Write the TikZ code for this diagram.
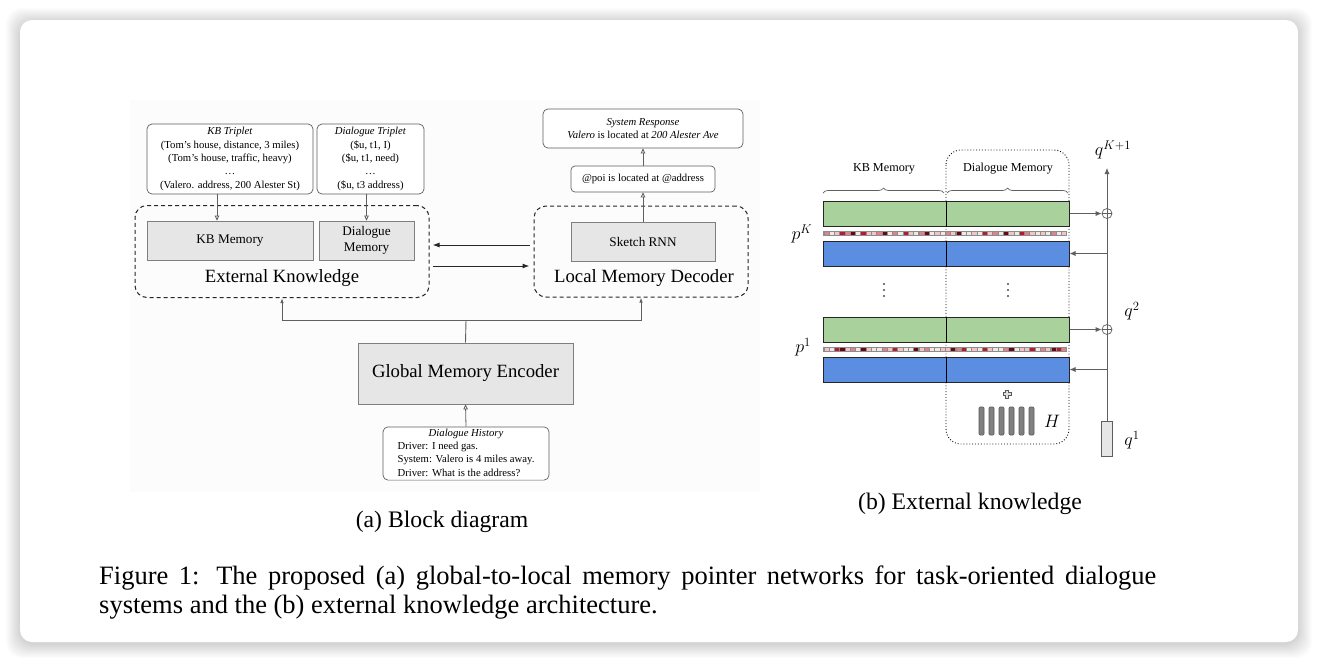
\RequirePackage{fix-cm}
\documentclass[tikz,border=0pt]{standalone}
\usepackage{fontspec}
\setmainfont{Liberation Serif}
\usepackage{amsmath}
\usetikzlibrary{positioning}
\usetikzlibrary{arrows.meta}
\usetikzlibrary{decorations.pathreplacing}

\definecolor{memgray}{RGB}{230,230,230}
\definecolor{linegray}{RGB}{95,95,95}
\definecolor{kbgreen}{RGB}{169,209,155}
\definecolor{kbblue}{RGB}{91,141,224}
\definecolor{panelbg}{RGB}{252,252,252}
\definecolor{cella}{RGB}{238,232,232}
\definecolor{cellb}{RGB}{242,196,200}
\definecolor{cellc}{RGB}{222,130,142}
\definecolor{celld}{RGB}{188,24,44}
\definecolor{celle}{RGB}{105,5,20}

\newcommand{\tripfont}{\fontsize{10.7}{13.3}\selectfont}
\newcommand{\memfont}{\fontsize{13.2}{15.5}\selectfont}
\newcommand{\modfont}{\fontsize{18.7}{22}\selectfont}
\newcommand{\kbfont}{\fontsize{12.2}{14}\selectfont}
\newcommand{\captfont}{\fontsize{23.7}{29}\selectfont}
\newcommand{\figfont}{\fontsize{26.5}{29}\selectfont}
\newcommand{\qpfont}{\fontsize{18}{20}\selectfont}
\newcommand{\stripeK}{c,a,b,d,c,e,a,d,b,b,c,e,a,c,a,d,b,a,c,e,a,b,a,c,b,e,a,a,b,a,d,b,c,a,e,b,a,d,c,b,a,b,a,c,a,b}
\newcommand{\stripeOne}{b,a,d,e,b,c,a,e,b,a,a,c,b,d,b,a,a,e,b,c,a,a,b,b,e,c,d,a,b,a,d,b,a,a,c,e,a,b,b,d,a,c,b,e,d,c}

\tikzset{
  srcbox/.style={draw=linegray, rounded corners=5pt, fill=white, align=center, inner sep=0pt, font=\tripfont, line width=0.7pt},
  membox/.style={draw=linegray!80, fill=memgray, inner sep=0pt, font=\memfont, align=center, line width=0.7pt},
  modbox/.style={draw=black!85, dash pattern=on 4pt off 3pt, rounded corners=12pt, line width=1pt, inner sep=0pt},
  feed/.style={draw=linegray, line width=0.8pt, -{Triangle[open,length=5pt,width=4.5pt]}},
  link/.style={draw=black!85, line width=1pt, -{Latex[length=7pt,width=5pt]}},
  splitline/.style={draw=linegray, line width=0.9pt},
  greenbar/.style={draw=black!85, fill=kbgreen, line width=1pt, minimum width=246pt, minimum height=25pt, inner sep=0pt},
  bluebar/.style={draw=black!85, fill=kbblue, line width=1pt, minimum width=246pt, minimum height=25pt, inner sep=0pt},
  qarrow/.style={draw=linegray, line width=0.8pt, -{Latex[length=6pt,width=5pt]}},
  oplus/.style={circle, draw=linegray, fill=white, minimum size=10pt, inner sep=0pt, line width=0.7pt,
    path picture={\draw[linegray, line width=0.7pt] (path picture bounding box.north) -- (path picture bounding box.south)
      (path picture bounding box.west) -- (path picture bounding box.east);}},
  hbar/.style={draw=black!65, fill=black!50, rounded corners=1pt, line width=0.6pt},
  membrace/.style={decorate, decoration={brace, amplitude=5pt}, draw=linegray, line width=0.7pt}
}

\begin{document}
\begin{tikzpicture}[x=1pt, y=-1pt]
 \useasboundingbox (0,0) rectangle (1318,662);
 \fill[white] (0,0) rectangle (1318,662);
 % card with soft shadow
 \foreach \s in {1,...,14}
   \fill[black, opacity=0.011, rounded corners=16pt] (20-\s,22-\s) rectangle (1298+\s,644+\s);
 \fill[white, rounded corners=12pt] (20,20) rectangle (1298,642);
 \fill[panelbg] (130,100) rectangle (760,492);

 % (a) block diagram
 \node[srcbox, minimum width=166pt, minimum height=70pt] (kbtrip) at (230,159)
   {\textit{KB Triplet}\\(Tom's house, distance, 3 miles)\\(Tom's house, traffic, heavy)\\\dots\\(Valero. address, 200 Alester St)};
 \node[srcbox, minimum width=107pt, minimum height=70pt] (dlgtrip) at (370.5,159)
   {\textit{Dialogue Triplet}\\(\$u, t1, I)\\(\$u, t1, need)\\\dots\\(\$u, t3 address)};
 \node[modbox, minimum width=294pt, minimum height=92pt] (ext) at (282,251.5) {};
 \node[membox, minimum width=166pt, minimum height=39pt] (kbmem) at (230,240.5) {KB Memory};
 \node[membox, minimum width=95pt, minimum height=39pt] (dlgmem) at (366.5,240.5) {Dialogue\\Memory};
 \node[font=\modfont, anchor=base] (extname) at (282,282) {External Knowledge};

 \node[modbox, minimum width=214pt, minimum height=91pt] (lmd) at (641,251.5) {};
 \node[membox, minimum width=144pt, minimum height=39pt] (sketch) at (643,241.5) {Sketch RNN};
 \node[font=\modfont, anchor=base] (lmdname) at (644,282) {Local Memory Decoder};
 \node[srcbox, minimum width=144pt, minimum height=26pt, rounded corners=4pt] (poi) at (643,179) {@poi is located at @address};
 \node[srcbox, minimum width=200pt, minimum height=39pt] (resp) at (643,128.5)
   {\textit{System Response}\\\textit{Valero} is located at \textit{200 Alester Ave}};

 \node[membox, font=\modfont, minimum width=215pt, minimum height=61pt] (gme) at (465.5,373.5) {Global Memory Encoder};
 \node[srcbox, minimum width=166pt, minimum height=53pt] (hist) at (466,453.5)
   {\begin{tabular}{@{}l@{}}\multicolumn{1}{@{}c@{}}{\textit{Dialogue History}}\\Driver: I need gas.\\System: Valero is 4 miles away.\\Driver: What is the address?\end{tabular}};
 \coordinate (split) at (466,320);

 \draw[feed] ([xshift=-13pt]kbtrip.south) -- ([xshift=-13pt]kbmem.north);
 \draw[feed] (dlgtrip.south -| dlgmem.north) -- (dlgmem.north);
 \draw[feed] (sketch.north) -- (poi.south);
 \draw[feed] (poi.north) -- (resp.south);
 \draw[feed] (hist.north) -- (gme.south);
 \draw[link, shorten <=4pt, shorten >=3pt] ([yshift=6.5pt]lmd.west) -- ([yshift=6.5pt]ext.east);
 \draw[link, shorten <=3pt, shorten >=4pt] ([yshift=-14.5pt]ext.east) -- ([yshift=-14.5pt]lmd.west);
 \draw[splitline] (gme.north) -- (split);
 \draw[splitline, -{Latex[length=5pt,width=3.5pt]}] (split) -| (ext.south);
 \draw[splitline, -{Latex[length=5pt,width=3.5pt]}] (split) -| (lmd.south);

 \node[font=\captfont, anchor=base] (capa) at (442,527) {(a) Block diagram};

 % (b) external knowledge
 \draw[dotted, line width=0.9pt, rounded corners=15pt] (946,150) rectangle (1069,444);
 \node[font=\kbfont, anchor=base] (kbname) at (884,171) {KB Memory};
 \node[font=\kbfont, anchor=base] (dlgname) at (1008,171) {Dialogue Memory};
 \draw[membrace] (823,193) -- (944,193);
 \draw[membrace] (947,193) -- (1068,193);

 \node[greenbar] (gK) at (946,213.5) {};
 \node[bluebar] (bK) at (946,253.5) {};
 \node[greenbar] (g1) at (946,329.5) {};
 \node[bluebar] (b1) at (946,369.5) {};
 \foreach \bar in {gK,bK,g1,b1}
   \draw[black, line width=1pt] (\bar.north) -- (\bar.south);

 \fill[black!45] (823,231) rectangle (1067,236);
 \foreach \c [count=\i from 0] in \stripeK
   \fill[fill=cell\c] (824.5+\i*5.28,231.9) rectangle ++(4.2,3.3);
 \fill[black!45] (823,347) rectangle (1067,352);
 \foreach \c [count=\i from 0] in \stripeOne
   \fill[fill=cell\c] (824.5+\i*5.28,347.9) rectangle ++(4.2,3.3);

 \node[font=\qpfont] (pK) at (802,234) {$p^K$};
 \node[font=\qpfont] (p1) at (803,347) {$p^1$};
 \foreach \xd in {884,1008}
   \foreach \yd in {284,290,296}
     \fill[black!70] (\xd,\yd) circle (1.1pt);

 \draw[black!65, fill=black!12, line width=0.8pt] (1005.6,390) -- ++(2.8,0) -- ++(0,2.6) -- ++(2.6,0) -- ++(0,2.8) -- ++(-2.6,0)
   -- ++(0,2.6) -- ++(-2.8,0) -- ++(0,-2.6) -- ++(-2.6,0) -- ++(0,-2.8) -- ++(2.6,0) -- cycle;
 \foreach \i in {0,...,5}
   \draw[hbar] (979+\i*10,407) rectangle ++(5,28);
 \node[font=\qpfont] (hname) at (1052,421) {$H$};

 \node[draw=linegray, fill=memgray, line width=0.7pt, minimum width=11pt, minimum height=35pt, inner sep=0pt] (q1) at (1107,438.5) {};
 \coordinate (qtop) at (1107,168);
 \draw[qarrow] (q1.north) -- (qtop);
 \node[oplus] (addK) at (1107,213.5) {};
 \node[oplus] (add1) at (1107,329.5) {};
 \draw[qarrow] (gK.east) -- (addK.west);
 \draw[qarrow] (g1.east) -- (add1.west);
 \draw[qarrow] (bK.east -| addK.center) -- (bK.east);
 \draw[qarrow] (b1.east -| add1.center) -- (b1.east);
 \node[font=\qpfont] (qK) at (1113,150) {$q^{K+1}$};
 \node[font=\qpfont] (q2) at (1132,311) {$q^2$};
 \node[font=\qpfont] (q1name) at (1132,440) {$q^1$};

 \node[font=\captfont, anchor=base] (capb) at (970,509) {(b) External knowledge};

 % figure caption
 \node[font=\figfont, text width=1057pt, align=justify, inner sep=0pt, anchor=north west] (figcap) at (99,566)
   {Figure 1: The proposed (a) global-to-local memory pointer networks for task-oriented dialogue\linebreak systems and the (b) external knowledge architecture.};
\end{tikzpicture}
\end{document}
